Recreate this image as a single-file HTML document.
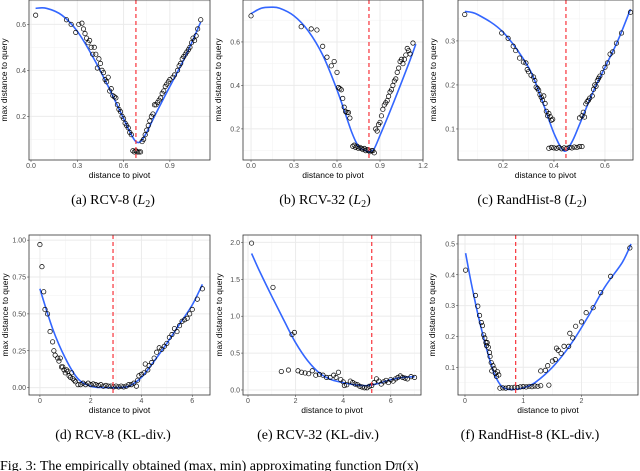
<!DOCTYPE html>
<html><head><meta charset="utf-8">
<style>
html,body{margin:0;padding:0;background:#fff;}
svg{display:block;}
.tick{font-family:"Liberation Sans",sans-serif;font-size:7px;fill:#4d4d4d;}
.atitle{font-family:"Liberation Sans",sans-serif;font-size:8.5px;fill:#000;}
.cap{font-family:"Liberation Serif",serif;font-size:14px;fill:#000;}
</style></head>
<body>
<svg id="fig" width="640" height="471" viewBox="0 0 640 471" xmlns="http://www.w3.org/2000/svg"></svg>
<script>
// ---- Panel (a) RCV-8 L2 ----
const aX=[0.03,0.23,0.26,0.29,0.31,0.33,0.34,0.35,0.36,0.37,0.38,0.39,0.40,0.41,0.42,0.43,0.44,0.45,0.46,0.47,0.48,0.49,0.50,0.51,0.52,0.53,0.54,0.55,0.56,0.57,0.58,0.59,0.60,0.61,0.62,0.63,0.64,0.65,0.66,0.67,0.68,0.69,0.70,0.71,0.72,0.73,0.74,0.75,0.76,0.77,0.78,0.79,0.80,0.81,0.82,0.83,0.84,0.85,0.86,0.87,0.88,0.89,0.90,0.92,0.93,0.95,0.96,0.97,0.98,0.99,1.00,1.01,1.02,1.03,1.04,1.05,1.06,1.07,1.08,1.10];
const aY=[0.64,0.62,0.60,0.565,0.60,0.605,0.58,0.56,0.54,0.52,0.53,0.50,0.47,0.50,0.47,0.41,0.45,0.43,0.40,0.39,0.36,0.35,0.37,0.31,0.32,0.29,0.285,0.28,0.25,0.23,0.22,0.20,0.19,0.17,0.16,0.15,0.13,0.12,0.05,0.045,0.05,0.045,0.045,0.045,0.09,0.10,0.12,0.14,0.16,0.18,0.20,0.21,0.25,0.25,0.26,0.27,0.28,0.30,0.31,0.33,0.34,0.35,0.36,0.37,0.38,0.40,0.42,0.43,0.45,0.46,0.47,0.48,0.49,0.50,0.52,0.54,0.53,0.55,0.58,0.62];
const aFitX=[0.03,0.1,0.2,0.3,0.4,0.5,0.6,0.65,0.68,0.71,0.75,0.8,0.9,1.0,1.1];
const aFitY=[0.67,0.67,0.64,0.57,0.46,0.33,0.19,0.12,0.09,0.09,0.13,0.2,0.33,0.46,0.61];
const aPivot=0.68;
// ---- Panel (b) RCV-32 L2 ----
const bX=[0.0,0.35,0.42,0.46,0.50,0.53,0.56,0.58,0.60,0.61,0.62,0.63,0.64,0.65,0.66,0.67,0.68,0.69,0.71,0.72,0.73,0.74,0.75,0.76,0.77,0.78,0.79,0.80,0.81,0.82,0.83,0.84,0.85,0.86,0.87,0.88,0.89,0.90,0.91,0.92,0.93,0.94,0.95,0.96,0.97,0.98,0.99,1.00,1.01,1.02,1.03,1.04,1.05,1.06,1.07,1.08,1.09,1.10,1.11,1.13];
const bY=[0.72,0.67,0.66,0.655,0.58,0.53,0.49,0.51,0.46,0.39,0.385,0.38,0.34,0.30,0.28,0.275,0.275,0.25,0.12,0.125,0.115,0.12,0.11,0.115,0.11,0.105,0.11,0.10,0.105,0.10,0.095,0.10,0.10,0.09,0.2,0.19,0.22,0.23,0.26,0.29,0.31,0.32,0.33,0.35,0.37,0.38,0.40,0.42,0.43,0.46,0.48,0.51,0.52,0.50,0.52,0.54,0.57,0.56,0.545,0.595];
const bFitX=[0,0.07,0.14,0.2,0.3,0.4,0.5,0.6,0.7,0.75,0.8,0.83,0.86,0.9,1.0,1.1,1.15];
const bFitY=[0.73,0.755,0.76,0.755,0.72,0.65,0.54,0.38,0.19,0.12,0.1,0.095,0.11,0.17,0.33,0.5,0.59];
const bPivot=0.823;
// ---- Panel (c) RandHist-8 L2 ----
const cX=[0.05,0.195,0.22,0.24,0.25,0.265,0.28,0.29,0.295,0.30,0.31,0.32,0.325,0.33,0.335,0.34,0.345,0.35,0.355,0.36,0.365,0.37,0.375,0.38,0.385,0.39,0.395,0.38,0.39,0.40,0.41,0.42,0.43,0.44,0.45,0.46,0.47,0.48,0.49,0.50,0.51,0.50,0.51,0.515,0.52,0.525,0.53,0.535,0.54,0.55,0.555,0.56,0.565,0.57,0.575,0.58,0.59,0.60,0.61,0.62,0.63,0.645,0.665,0.70];
const cY=[0.36,0.318,0.306,0.288,0.278,0.261,0.252,0.25,0.235,0.23,0.222,0.218,0.21,0.195,0.192,0.188,0.178,0.172,0.165,0.175,0.158,0.14,0.13,0.135,0.128,0.12,0.122,0.056,0.058,0.057,0.056,0.058,0.055,0.057,0.056,0.058,0.057,0.059,0.058,0.06,0.06,0.125,0.13,0.138,0.127,0.157,0.162,0.165,0.17,0.175,0.19,0.2,0.197,0.21,0.215,0.22,0.228,0.24,0.25,0.27,0.275,0.295,0.318,0.365];
const cFitX=[0.05,0.1,0.2,0.3,0.35,0.4,0.44,0.47,0.5,0.55,0.6,0.65,0.7];
const cFitY=[0.367,0.36,0.32,0.24,0.17,0.09,0.05,0.07,0.11,0.18,0.24,0.3,0.372];
const cPivot=0.447;
// ---- Panel (d) RCV-8 KL ----
const dX=[0,0.08,0.15,0.2,0.3,0.4,0.5,0.55,0.6,0.7,0.75,0.8,0.85,0.9,0.95,1.0,1.05,1.1,1.15,1.2,1.25,1.3,1.35,1.4,1.5,1.6,1.7,1.8,1.9,2.0,2.1,2.2,2.3,2.4,2.5,2.6,2.7,2.8,2.9,3.0,3.1,3.2,3.3,3.4,3.5,3.6,3.7,3.8,3.85,3.9,4.0,4.1,4.15,4.25,4.3,4.4,4.5,4.6,4.7,4.8,4.9,5.0,5.1,5.2,5.3,5.4,5.5,5.6,5.7,5.8,5.9,6.0,6.2,6.4];
const dY=[0.97,0.82,0.65,0.53,0.5,0.38,0.31,0.25,0.22,0.2,0.18,0.2,0.14,0.14,0.12,0.1,0.12,0.11,0.08,0.07,0.1,0.06,0.05,0.04,0.02,0.02,0.03,0.02,0.03,0.02,0.025,0.02,0.015,0.02,0.01,0.015,0.01,0.01,0.005,0.01,0.005,0.01,0.005,0.01,0.02,0.02,0.03,0.01,0.05,0.08,0.09,0.1,0.16,0.12,0.15,0.17,0.2,0.24,0.27,0.26,0.28,0.3,0.34,0.36,0.4,0.38,0.42,0.45,0.46,0.47,0.5,0.53,0.6,0.67];
const dFitX=[0,0.5,1,1.5,2,2.5,3,3.5,4,4.5,5,5.5,6,6.4];
const dFitY=[0.67,0.4,0.2,0.06,0.01,0,0,0.01,0.07,0.18,0.3,0.43,0.56,0.7];
const dPivot=2.88;
// ---- Panel (e) RCV-32 KL ----
const eX=[0.15,1.05,1.4,1.7,1.85,1.95,2.1,2.25,2.4,2.55,2.7,2.85,3.0,3.15,3.3,3.45,3.6,3.7,3.8,3.9,4.0,4.05,4.15,4.3,4.4,4.5,4.6,4.7,4.8,4.9,5.0,5.1,5.2,5.3,5.4,5.5,5.6,5.7,5.8,5.9,6.0,6.1,6.2,6.3,6.4,6.5,6.6,6.7,6.85,7.0];
const eY=[1.99,1.39,0.25,0.27,0.75,0.78,0.26,0.24,0.23,0.22,0.26,0.2,0.21,0.2,0.17,0.17,0.2,0.17,0.24,0.14,0.11,0.06,0.07,0.12,0.1,0.08,0.07,0.05,0.04,0.03,0.03,0.05,0.06,0.1,0.15,0.12,0.08,0.11,0.13,0.1,0.14,0.12,0.15,0.17,0.19,0.17,0.16,0.15,0.18,0.17];
const eFitX=[0.15,0.5,1,1.5,2,2.5,3,3.5,4,4.5,5,5.5,6,6.5,7];
const eFitY=[1.85,1.6,1.27,0.95,0.64,0.4,0.23,0.14,0.1,0.07,0.06,0.09,0.14,0.17,0.18];
const ePivot=5.2;
// ---- Panel (f) RandHist-8 KL ----
const fX=[0.01,0.18,0.22,0.25,0.28,0.3,0.32,0.34,0.36,0.37,0.38,0.4,0.42,0.43,0.45,0.46,0.48,0.5,0.52,0.54,0.56,0.58,0.6,0.65,0.7,0.75,0.8,0.85,0.9,0.95,1.0,1.05,1.1,1.15,1.2,1.25,1.3,1.44,1.3,1.38,1.42,1.5,1.55,1.57,1.6,1.65,1.7,1.78,1.8,1.85,1.9,2.0,2.08,2.2,2.33,2.5,2.83];
const fY=[0.415,0.333,0.298,0.268,0.245,0.235,0.205,0.195,0.18,0.17,0.18,0.165,0.148,0.135,0.115,0.088,0.105,0.095,0.08,0.07,0.085,0.075,0.032,0.033,0.032,0.034,0.033,0.035,0.034,0.036,0.037,0.036,0.038,0.037,0.039,0.038,0.04,0.042,0.088,0.09,0.105,0.12,0.125,0.162,0.155,0.145,0.168,0.168,0.21,0.195,0.233,0.247,0.277,0.293,0.342,0.395,0.487];
const fFitX=[0.01,0.1,0.2,0.3,0.4,0.5,0.6,0.7,0.85,1.0,1.2,1.5,1.8,2.1,2.4,2.7,2.85];
const fFitY=[0.47,0.38,0.29,0.21,0.14,0.08,0.045,0.03,0.028,0.033,0.05,0.1,0.17,0.26,0.36,0.44,0.5];
const fPivot=0.87;
// tick labels
const aXTicks=["0.0","0.3","0.6","0.9"], aYTicks=["0.2","0.4","0.6"];
const bXTicks=["0.0","0.3","0.6","0.9","1.2"], bYTicks=["0.2","0.4","0.6"];
const cXTicks=["0.2","0.4","0.6"], cYTicks=["0.1","0.2","0.3"];
const dXTicks=["0","2","4","6"], dYTicks=["0.00","0.25","0.50","0.75","1.00"];
const eXTicks=["0","2","4","6"], eYTicks=["0.0","0.5","1.0","1.5","2.0"];
const fXTicks=["0","1","2"], fYTicks=["0.1","0.2","0.3","0.4","0.5"];

const NS="http://www.w3.org/2000/svg";
const svg=document.getElementById('fig');
function mk(tag,attrs,parent){const e=document.createElementNS(NS,tag);for(const k in attrs)e.setAttribute(k,attrs[k]);(parent||svg).appendChild(e);return e;}
function smooth(pts){
 let d='M'+pts[0][0].toFixed(1)+','+pts[0][1].toFixed(1);
 for(let i=0;i<pts.length-1;i++){
  const p0=pts[Math.max(0,i-1)],p1=pts[i],p2=pts[i+1],p3=pts[Math.min(pts.length-1,i+2)];
  const c1=[p1[0]+(p2[0]-p0[0])/6,p1[1]+(p2[1]-p0[1])/6];
  const c2=[p2[0]-(p3[0]-p1[0])/6,p2[1]-(p3[1]-p1[1])/6];
  d+='C'+c1[0].toFixed(1)+','+c1[1].toFixed(1)+' '+c2[0].toFixed(1)+','+c2[1].toFixed(1)+' '+p2[0].toFixed(1)+','+p2[1].toFixed(1);
 }
 return d;
}

const panels=[
 {id:'a',box:[29,0,210,160],xd:[-0.013,1.16],yd:[0.01,0.706],X:aX,Y:aY,FX:aFitX,FY:aFitY,piv:aPivot,xt:aXTicks,yt:aYTicks,ytx:7,cap:['(a) RCV-8 (','L','2',')'],capx:113,capy:204,tly:168,ttly:178},
 {id:'b',box:[243,0,423,160],xd:[-0.056,1.2],yd:[0.057,0.793],X:bX,Y:bY,FX:bFitX,FY:bFitY,piv:bPivot,xt:bXTicks,yt:bYTicks,ytx:221,cap:['(b) RCV-32 (','L','2',')'],capx:325,capy:204,tly:168,ttly:178},
 {id:'c',box:[458,0,633,160],xd:[0.0235,0.71],yd:[0.0295,0.393],X:cX,Y:cY,FX:cFitX,FY:cFitY,piv:cPivot,xt:cXTicks,yt:cYTicks,ytx:436,cap:['(c) RandHist-8 (','L','2',')'],capx:532,capy:204,tly:168,ttly:178},
 {id:'d',box:[29,235,210,395],xd:[-0.43,6.7],yd:[-0.05,1.035],X:dX,Y:dY,FX:dFitX,FY:dFitY,piv:dPivot,xt:dXTicks,yt:dYTicks,ytx:8,cap:['(d) RCV-8 (KL-div.)'],capx:113,capy:439,tly:403,ttly:413},
 {id:'e',box:[243,235,421,395],xd:[-0.21,7.27],yd:[-0.068,2.1],X:eX,Y:eY,FX:eFitX,FY:eFitY,piv:ePivot,xt:eXTicks,yt:eYTicks,ytx:222,cap:['(e) RCV-32 (KL-div.)'],capx:318,capy:439,tly:403,ttly:413},
 {id:'f',box:[458,235,638,395],xd:[-0.12,2.97],yd:[0.01,0.529],X:fX,Y:fY,FX:fFitX,FY:fFitY,piv:fPivot,xt:fXTicks,yt:fYTicks,ytx:435,cap:['(f) RandHist-8 (KL-div.)'],capx:530,capy:439,tly:403,ttly:413}
];

panels.forEach(p=>{
 const [x0,y0,x1,y1]=p.box;
 const sx=v=>x0+(v-p.xd[0])/(p.xd[1]-p.xd[0])*(x1-x0);
 const sy=v=>y1-(v-p.yd[0])/(p.yd[1]-p.yd[0])*(y1-y0);
 const g=mk('g',{});
 
 
 mk('rect',{x:x0,y:y0,width:x1-x0,height:y1-y0,fill:'#fff'},g);
 const xv=p.xt.map(Number), yv=p.yt.map(Number);
 const minors=(vals,lo,hi)=>{const st=vals[1]-vals[0];const out=[];for(let v=vals[0]-st/2;v<hi;v+=st){if(v>lo)out.push(v);}return out;};
 minors(xv,p.xd[0],p.xd[1]).forEach(v=>mk('line',{x1:sx(v),x2:sx(v),y1:y0,y2:y1,stroke:'#f2f2f2','stroke-width':0.5},g));
 minors(yv,p.yd[0],p.yd[1]).forEach(v=>mk('line',{x1:x0,x2:x1,y1:sy(v),y2:sy(v),stroke:'#f2f2f2','stroke-width':0.5},g));
 xv.forEach((v,i)=>{
  mk('line',{x1:sx(v),x2:sx(v),y1:y0,y2:y1,stroke:'#ebebeb','stroke-width':1},g);
  mk('line',{x1:sx(v),x2:sx(v),y1:y1,y2:y1+2,stroke:'#333','stroke-width':0.5},g);
  const t=mk('text',{x:sx(v),y:p.tly,'text-anchor':'middle',class:'tick'},g);t.textContent=p.xt[i];
  
  
 });
 yv.forEach((v,i)=>{
  mk('line',{x1:x0,x2:x1,y1:sy(v),y2:sy(v),stroke:'#ebebeb','stroke-width':1},g);
  mk('line',{x1:x0-2,x2:x0,y1:sy(v),y2:sy(v),stroke:'#333','stroke-width':0.5},g);
  const t=mk('text',{x:x0-3,y:sy(v)+2.5,'text-anchor':'end',class:'tick'},g);t.textContent=p.yt[i];
  
  
 });
 const pts=p.FX.map((v,i)=>[sx(v),sy(p.FY[i])]);
 const fit=mk('path',{d:smooth(pts),fill:'none',stroke:'#3366ff','stroke-width':1.6,'stroke-linejoin':'round'},g);
 
 
 p.X.forEach((v,i)=>{
  const c=mk('circle',{cx:sx(v),cy:sy(p.Y[i]),r:2.2,fill:'none',stroke:'#000','stroke-width':0.7},g);
  
  
 });
 const pl=mk('line',{x1:sx(p.piv),x2:sx(p.piv),y1:y0,y2:y1,stroke:'#f8333a','stroke-width':1.2,'stroke-dasharray':'4,3'},g);
 
 
 mk('rect',{x:x0,y:y0,width:x1-x0,height:y1-y0,fill:'none',stroke:'#333','stroke-width':0.8},g);
 const xt=mk('text',{x:(x0+x1)/2,y:p.ttly,'text-anchor':'middle',class:'atitle'},g);xt.textContent='distance to pivot';
 
 
 const cy=(y0+y1)/2;
 const yt=mk('text',{x:p.ytx,y:cy,'text-anchor':'middle',class:'atitle',transform:'rotate(-90 '+p.ytx+' '+cy+')'},g);yt.textContent='max distance to query';
 
 
 const cap=mk('text',{x:p.capx,y:p.capy,'text-anchor':'middle',class:'cap'},g);
 
 
 if(p.cap.length>1){
  const s1=mk('tspan',{},cap);s1.textContent=p.cap[0];
  const s2=mk('tspan',{'font-style':'italic'},cap);s2.textContent=p.cap[1];
  const s3=mk('tspan',{'font-size':'10px',dy:3},cap);s3.textContent=p.cap[2];
  const s4=mk('tspan',{dy:-3},cap);s4.textContent=p.cap[3];
 } else cap.textContent=p.cap[0];
});
const ft=mk('text',{x:0,y:470,class:'cap','font-size':'15px'});
ft.textContent='Fig. 3: The empirically obtained (max, min) approximating function Dπ(x)';


</script>
</body></html>
